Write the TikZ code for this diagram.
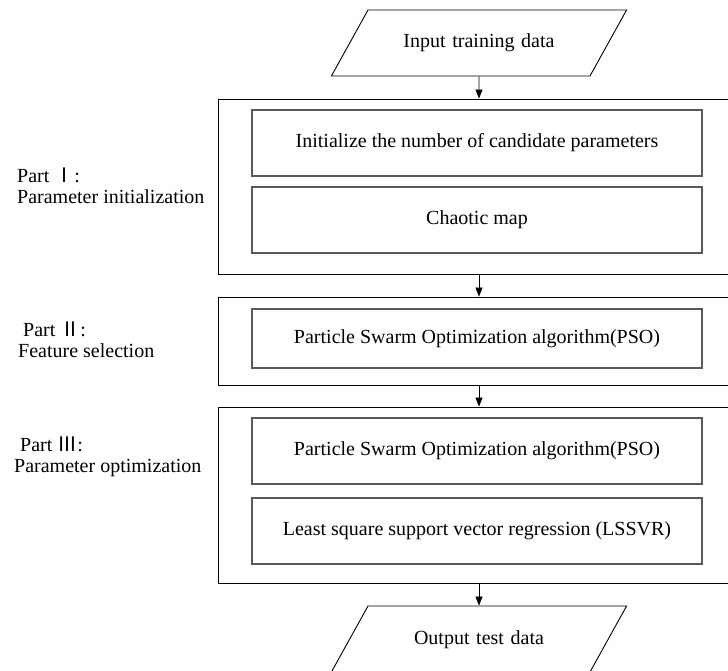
\documentclass[tikz,border=0pt]{standalone}
\usepackage{fontspec}
\setmainfont{Liberation Serif}
\newfontfamily\cjk{Noto Sans CJK SC}
\usetikzlibrary{shapes.geometric,arrows.meta}

\begin{document}
\begin{tikzpicture}[x=1pt,y=-1pt,
    font=\fontsize{20}{21}\selectfont,
    partbox/.style={draw=black,line width=0.9pt,minimum width=522pt,inner sep=0pt},
    stepbox/.style={draw=gray!70!black,line width=1.2pt,minimum width=450pt,minimum height=66pt,inner sep=0pt},
    iobox/.style={draw,trapezium,trapezium left angle=61,trapezium right angle=119,
        text width=166pt,align=center,text height=14pt,text depth=4pt,
        inner xsep=28pt,inner ysep=24pt,line width=0.9pt},
    partlabel/.style={anchor=west,align=left,inner sep=0pt},
    flow/.style={-{Triangle[length=9pt,width=7pt]},line width=0.8pt}]

        % Fix the canvas
        \clip (0,0) rectangle (728,671);

        % Draw input and output data
        \node[iobox] (input) at (479,43) {Input training data};
        \node[iobox] (output) at (479,639) {Output test data};

        % Draw the three parts
        \node[partbox,minimum height=175pt] (part1) at (479,186.5) {};
        \node[partbox,minimum height=88pt] (part2) at (479,341) {};
        \node[partbox,minimum height=176pt] (part3) at (479,495) {};

        % Draw the steps inside each part
        \node[stepbox] (init) at (477,143) {Initialize the number of candidate parameters};
        \node[stepbox] (chaos) at (477,220) {Chaotic map};
        \node[stepbox,minimum height=59pt] (psofeat) at (477,338.5) {Particle Swarm Optimization algorithm(PSO)};
        \node[stepbox] (psoparam) at (477,451) {Particle Swarm Optimization algorithm(PSO)};
        \node[stepbox] (lssvr) at (477,531) {Least square support vector regression (LSSVR)};

        % Label the parts on the left
        \node[partlabel] (label1) at (17,186) {Part~{\cjk Ⅰ}:\\Parameter initialization};
        \node[partlabel] (label2) at (18,340) {\hspace{5pt}Part~{\cjk Ⅱ}:\\Feature selection};
        \node[partlabel] (label3) at (14,457) {\hspace{6pt}Part~{\cjk Ⅲ}:\\Parameter optimization};

        % Draw the flow arrows
        \draw[flow] (input) -- (part1);
        \draw[flow] (part1) -- (part2);
        \draw[flow] (part2) -- (part3);
        \draw[flow] (part3) -- (output);

    \end{tikzpicture}
\end{document}
